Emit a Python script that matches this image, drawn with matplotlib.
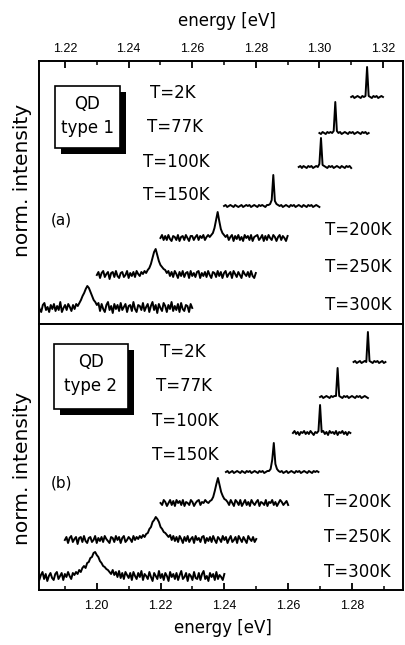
import matplotlib
matplotlib.use('Agg')
import matplotlib.pyplot as plt
from matplotlib.ticker import MultipleLocator, FormatStrFormatter
from matplotlib.patches import Rectangle
import numpy as np

plt.rcParams['font.family'] = ['Liberation Sans', 'DejaVu Sans']

step = 0.0005  # eV, spectrometer sampling
temps = ['T=2K', 'T=77K', 'T=100K', 'T=150K', 'T=200K', 'T=250K', 'T=300K']

# ---- QD type 1 (panel a), spectra listed 300K -> 2K
start_a = [1.2105, 1.2300, 1.2500, 1.2700, 1.2935, 1.3000, 1.3100]
spec_a_300 = [2,-3,4,-1,-4,3,5,-2,1,-4,3,-1,4,-3,2,-2,6,-4,0,3,-2,4,1,-3,3,-1,4,2,
              5,8,12,15,19,22,20,16,12,8,6,3,
              5,-3,4,-1,-4,3,6,-2,2,-5,4,-1,3,-3,5,-2,1,4,-4,2,3,-3,6,-1,-4,3,2,-2,5,-3,
              1,4,-4,2,6,-2,3,-5,4,0,-3,5,2,-4,3,-1,6,-3,2,-2,4,-4,5,-1,-3,3,2,-4,4,0]
spec_a_250 = [0,3,-3,2,4,-2,1,3,-4,2,3,-2,4,-1,-3,2,3,-2,0,4,-3,2,-1,3,-2,4,1,-1,3,1,4,2,
              5,7,11,17,23,26,20,14,10,8,6,5,
              2,4,-1,3,-2,4,1,-3,3,-1,4,-2,2,3,-3,4,-1,2,-2,3,4,-3,2,-1,3,-2,4,0,-3,3,
              2,-2,4,-1,3,-3,2,4,-2,1,3,-3,4,1,-2,3,0,-3,4,1,-1,3,-2,4,-1,-3,2]
spec_a_200 = [0,3,-2,2,-2,3,-1,-3,2,1,-2,3,-3,1,2,-2,3,0,-3,2,2,-2,1,3,-2,2,0,3,-2,1,3,1,3,
              5,10,18,26,17,9,5,3,
              1,3,-2,1,3,-3,2,-1,3,-2,1,-3,3,0,2,-2,3,-3,1,2,3,-2,0,3,-3,2,-2,3,0,-2,
              3,1,-3,1,3,-2,2,0,-3,2]
spec_a_150 = [0,1,-1,0,1,0,-1,1,0,-1,0,1,-1,0,1,0,1,-1,0,1,0,-1,1,0,1,0,-1,1,1,
              2,6,31,5,2,
              1,0,1,-1,0,1,0,-1,1,0,1,-1,0,1,0,-1,1,0,-1,1,0,1,-1,0,1,0,-1]
spec_a_100 = [0,1,-1,1,0,-1,1,0,1,-1,0,1,0,
              3,29,2,
              1,0,-1,1,0,1,-1,0,1,0,-1,1,0,-1,1,0,1,-1]
spec_a_77 = [0,-1,1,0,-1,1,0,1,0,
             2,31,2,
             0,1,-1,0,1,0,-1,1,0,1,-1,0,1,0,-1,1,0,1,-1,0]
spec_a_2 = [0,1,-1,0,1,0,-1,1,0,
            1,30,1,
            0,-1,1,0,1,-1,0,1,0]

# ---- QD type 2 (panel b)
start_b = [1.1810, 1.1900, 1.2200, 1.2405, 1.2615, 1.2700, 1.2805]
spec_b_300 = [0,4,-3,2,5,-2,3,-4,1,4,-1,-3,3,5,-2,1,4,-3,3,0,5,1,-2,4,2,5,
              3,7,5,9,11,9,14,15,19,20,24,25,22,20,16,14,11,10,8,7,5,
              3,7,2,5,0,6,-1,4,-2,5,2,-1,4,-3,5,1,-2,4,0,6,-3,3,1,-2,5,0,-4,4,1,-2,
              6,-1,3,-3,4,1,-4,5,0,3,-2,4,-3,2,6,-2,0,4,-4,3,1,-3,5,-1,-2,4,-3,3,6,-2,
              1,-4,4,0,3,-3,5,-2,2,0,-3,3]
spec_b_250 = [0,3,-3,2,4,-2,1,3,-4,2,3,-2,4,-1,-3,2,3,-2,0,4,-3,2,-1,3,-2,4,1,-1,-3,3,
              2,-2,4,0,3,-3,2,4,-2,0,3,1,-2,4,0,3,1,4,2,5,3,
              6,7,11,13,18,20,23,21,18,13,11,8,7,5,
              3,5,0,4,-1,3,-2,4,1,-3,3,-1,4,-2,1,3,-3,4,0,2,-2,3,4,-3,2,-1,3,-2,4,0,
              -3,3,1,-2,4,0,3,-3,1,4,-2,0,3,-3,4,1,-2,3,0,-3,4,1,-1,3,-2,1]
spec_b_200 = [0,-2,3,1,-3,0,3,-2,2,-3,3,0,2,-2,3,-3,1,0,-2,3,1,-3,0,2,3,-2,1,0,3,1,0,2,3,
              6,12,19,25,18,11,7,4,
              3,1,-2,3,0,-3,3,1,-2,3,-3,0,3,-2,1,-3,3,0,-2,1,3,-3,1,0,-2,3,-3,1,0,3,
              -2,1,-3,0,3,1,-2,0,2,-2]
spec_b_150 = [0,1,-1,0,1,-1,0,1,0,-1,1,0,-1,1,0,1,-1,0,1,0,-1,1,0,1,-1,0,1,1,
              3,12,29,8,3,
              1,0,1,-1,0,1,-1,0,1,0,-1,1,0,1,-1,0,1,0,-1,1,0,-1,1,0,1,0]
spec_b_100 = [0,2,-1,1,-2,1,0,2,-1,1,-1,2,0,-2,1,0,
              2,28,1,
              2,-1,1,-2,2,0,1,-1,2,-2,1,0,2,-1,1,-2,1,0]
spec_b_77 = [0,1,-1,0,1,0,-1,1,0,1,
             1,29,1,
             0,-1,1,0,1,-1,0,1,0,-1,1,0,1,-1,0,1,0,-1]
spec_b_2 = [0,1,-1,0,1,-1,0,1,
            0,30,1,
            0,-1,1,0,1,-1,0,1,-1,0]

spectra_a = [spec_a_300, spec_a_250, spec_a_200, spec_a_150, spec_a_100, spec_a_77, spec_a_2]
spectra_b = [spec_b_300, spec_b_250, spec_b_200, spec_b_150, spec_b_100, spec_b_77, spec_b_2]

# vertical stacking offsets (300K -> 2K)
offsets_a = [16, 49, 86, 118, 157, 191, 227]
offsets_b = [13, 50, 87, 118, 157, 193, 228]

W, H = 405, 645
def fx(px):
    return px / W
def fy(py):
    return 1 - py / H

wide = ['DejaVu Sans']

fig = plt.figure(figsize=(W / 100, H / 100), dpi=100)
ax1 = fig.add_axes([fx(39), fy(324), fx(403) - fx(39), fy(60.5) - fy(324)])
ax2 = fig.add_axes([fx(39), fy(590), fx(403) - fx(39), fy(324) - fy(590)])

def draw(ax, starts, spectra, offsets):
    for s, v, off in zip(starts, spectra, offsets):
        v = np.array(v, dtype=float)
        e = s + step * np.arange(len(v))
        ax.plot(e, v + off, color='black', lw=1.4)
    ax.xaxis.set_major_locator(MultipleLocator(0.02))
    ax.xaxis.set_minor_locator(MultipleLocator(0.01))
    ax.xaxis.set_major_formatter(FormatStrFormatter('%.2f'))
    ax.set_yticks([])
    for sp in ax.spines.values():
        sp.set_linewidth(1.4)
    ax.tick_params(axis='x', which='major', direction='in', length=5, width=1.3, labelsize=9)
    ax.tick_params(axis='x', which='minor', direction='in', length=3, width=1.1)

draw(ax1, start_a, spectra_a, offsets_a)
ax1.set_xlim(1.2118, 1.3263)
ax1.set_ylim(0, 263.5)
ax1.xaxis.tick_top()
ax1.tick_params(axis='x', which='both', bottom=False, top=True, pad=4)

draw(ax2, start_b, spectra_b, offsets_b)
ax2.set_xlim(1.1819, 1.2960)
ax2.set_ylim(0, 266)
ax2.tick_params(axis='x', which='both', top=False, bottom=True, pad=7)

# axis titles
fig.text(fx(227), fy(21), 'energy [eV]', ha='center', va='center', fontsize=12, family=wide)
fig.text(fx(223), fy(628), 'energy [eV]', ha='center', va='center', fontsize=12, family=wide)
fig.text(fx(23), fy(180), 'norm. intensity', ha='center', va='center', rotation=90,
         fontsize=14.5, family=wide)
fig.text(fx(23), fy(468), 'norm. intensity', ha='center', va='center', rotation=90,
         fontsize=14.5, family=wide)

# temperature labels
lab_a = [(173, 93), (175, 127), (176, 162), (176, 195), (358, 230), (358, 267), (358, 305)]
lab_b = [(183, 352), (184, 386), (185, 421), (185, 455), (357, 502), (357, 537), (357, 572)]
for t, (px, py) in zip(temps, lab_a):
    fig.text(fx(px), fy(py), t, ha='center', va='center', fontsize=12, family=wide)
for t, (px, py) in zip(temps, lab_b):
    fig.text(fx(px), fy(py), t, ha='center', va='center', fontsize=12, family=wide)

fig.text(fx(61), fy(220), '(a)', ha='center', va='center', fontsize=11, family=wide)
fig.text(fx(61), fy(483), '(b)', ha='center', va='center', fontsize=11, family=wide)

# QD boxes with drop shadow
def qd_box(x0, y0, x1, y1, lines):
    sh = 6
    fig.add_artist(Rectangle((fx(x0 + sh), fy(y1 + sh)), fx(x1) - fx(x0), fy(y0) - fy(y1),
                             transform=fig.transFigure, facecolor='black', edgecolor='black', lw=0))
    fig.add_artist(Rectangle((fx(x0), fy(y1)), fx(x1) - fx(x0), fy(y0) - fy(y1),
                             transform=fig.transFigure, facecolor='white', edgecolor='black', lw=1.2))
    cx = (x0 + x1) / 2
    fig.text(fx(cx), fy(y0 + 18), lines[0], ha='center', va='center', fontsize=12, family=wide)
    fig.text(fx(cx), fy(y0 + 42), lines[1], ha='center', va='center', fontsize=12, family=wide)

qd_box(55, 86, 120, 148, ['QD', 'type 1'])
qd_box(54, 344, 128, 409, ['QD', 'type 2'])

fig.savefig('out.png', dpi=100)
